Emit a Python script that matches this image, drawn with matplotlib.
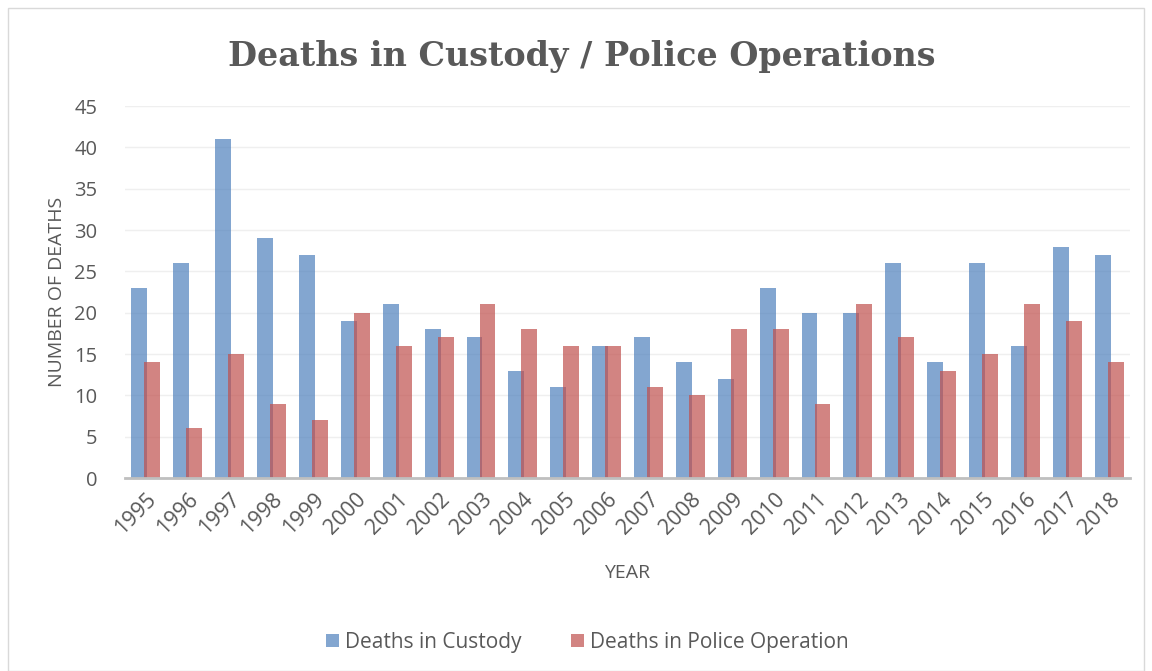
import numpy as np
import matplotlib.pyplot as plt
from matplotlib.patches import Rectangle

plt.rcParams["font.family"] = ["Open Sans", "DejaVu Sans"]

years = [str(y) for y in range(1995, 2019)]
custody = [23, 26, 41, 29, 27, 19, 21, 18, 17, 13, 11, 16, 17, 14, 12, 23, 20, 20, 26, 14, 26, 16, 28, 27]
police = [14, 6, 15, 9, 7, 20, 16, 17, 21, 18, 16, 16, 11, 10, 18, 18, 9, 21, 17, 13, 15, 21, 19, 14]

text_col = "#595959"

fig = plt.figure(figsize=(11.52, 6.71), dpi=100)
ax = fig.add_axes([0.1085, 0.2876, 0.8725, 0.5544])

# rahmen um die ganze grafik
fig.patches.append(Rectangle((8 / 1152, 0), 1136 / 1152, 663 / 671, transform=fig.transFigure,
                             fill=False, edgecolor="#D9D9D9", linewidth=1))

x = np.arange(len(years))
w = 0.38
ax.bar(x - 0.155, custody, w, color="#4F81BD", alpha=0.7, label="Deaths in Custody", zorder=2)
ax.bar(x + 0.155, police, w, color="#C0504D", alpha=0.7, label="Deaths in Police Operation", zorder=3)

ax.set_xlim(-0.5, len(years) - 0.5)
ax.set_ylim(0, 45)
ax.set_yticks(range(0, 46, 5))
ax.set_xticks(x)
ax.set_xticklabels(years, rotation=45, ha="right", rotation_mode="anchor")
ax.tick_params(axis="y", length=0, labelsize=14.5, colors=text_col, pad=20)
ax.tick_params(axis="x", length=0, labelsize=15.5, colors=text_col, pad=8)
ax.grid(axis="y", color="#EFEFEF", linewidth=1, zorder=0)
ax.set_axisbelow(True)
for s in ["top", "right", "left"]:
    ax.spines[s].set_visible(False)
ax.spines["bottom"].set_color("#BFBFBF")
ax.spines["bottom"].set_linewidth(2)
ax.spines["bottom"].set_zorder(4)

ax.set_ylabel("NUMBER OF DEATHS", fontsize=14, color=text_col, labelpad=6)
ax.set_xlabel("YEAR", fontsize=14, color=text_col, labelpad=18)

fig.text(0.505, 0.916, "Deaths in Custody / Police Operations", ha="center", va="center",
         fontsize=24, fontweight="bold", family="DejaVu Serif", color=text_col)

fig.legend(loc="center", bbox_to_anchor=(0.51, 0.043), ncol=2, frameon=False,
           fontsize=15, handlelength=0.6, handleheight=0.6, columnspacing=2.4,
           handletextpad=0.3, labelcolor=text_col)

fig.savefig("out.png", dpi=100)
